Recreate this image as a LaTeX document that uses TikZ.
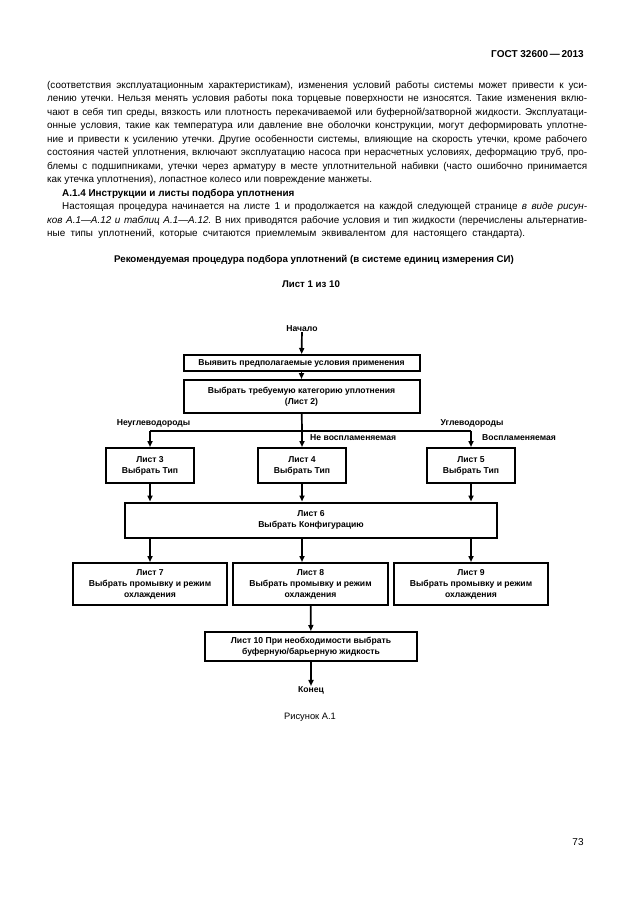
\documentclass[tikz,border=0pt]{standalone}
\usepackage{fontspec}
\setmainfont{Liberation Sans}
\usetikzlibrary{arrows.meta}
\frenchspacing
\newcommand\bodyfont{\fontsize{9.9}{13.45}\selectfont}
\newcommand\boxfont{\fontsize{8.6}{11}\selectfont\bfseries}
\begin{document}
\begin{tikzpicture}[x=1pt,y=-1pt,
  txt/.style={inner sep=0, font=\bodyfont},
  bline/.style={anchor=base west, inner sep=0},
  fbox/.style={draw, line width=2pt, align=center, inner sep=0, font=\boxfont},
  lbl/.style={inner sep=0, font=\boxfont},
  conn/.style={line width=1.7pt},
  arr/.style={line width=1.7pt, -{Triangle[length=6pt,width=5pt]}}]
\useasboundingbox (0,0) rectangle (630,913);
% header
\node[anchor=base east, inner sep=0, font=\fontsize{10}{12}\selectfont\bfseries] (hdr) at (584,57) {ГОСТ 32600\,—\,2013};
% body text
\node[bline] (l1) at (47,88) {\hbox to 540pt{\bodyfont (соответствия эксплуатационным характеристикам), изменения условий работы системы может привести к уси-}};
\node[bline] (l2) at (47,101.5) {\hbox to 540pt{\bodyfont лению утечки. Нельзя менять условия работы пока торцевые поверхности не износятся. Такие изменения вклю-}};
\node[bline] (l3) at (47,115) {\hbox to 540pt{\bodyfont чают в себя тип среды, вязкость или плотность перекачиваемой или буферной/затворной жидкости. Эксплуатаци-}};
\node[bline] (l4) at (47,128.5) {\hbox to 540pt{\bodyfont онные условия, такие как температура или давление вне оболочки конструкции, могут деформировать уплотне-}};
\node[bline] (l5) at (47,142) {\hbox to 540pt{\bodyfont ние и привести к усилению утечки. Другие особенности системы, влияющие на скорость утечки, кроме рабочего}};
\node[bline] (l6) at (47,155.5) {\hbox to 540pt{\bodyfont состояния частей уплотнения, включают эксплуатацию насоса при нерасчетных условиях, деформацию труб, про-}};
\node[bline] (l7) at (47,169) {\hbox to 540pt{\bodyfont блемы с подшипниками, утечки через арматуру в месте уплотнительной набивки (часто ошибочно принимается}};
\node[bline] (l8) at (47,182.5) {\bodyfont как утечка уплотнения), лопастное колесо или повреждение манжеты.};
\node[bline] (l9) at (62,196) {\bodyfont\bfseries А.1.4 Инструкции и листы подбора уплотнения};
\node[bline] (l10) at (62,209.5) {\hbox to 525pt{\bodyfont Настоящая процедура начинается на листе 1 и продолжается на каждой следующей странице \textit{в виде рисун-}}};
\node[bline] (l11) at (47,223) {\hbox to 540pt{\bodyfont \textit{ков А.1—А.12 и таблиц А.1—А.12.} В них приводятся рабочие условия и тип жидкости (перечислены альтернатив-}};
\node[bline] (l12) at (47,236.5) {\hbox to 478pt{\bodyfont ные типы уплотнений, которые считаются приемлемым эквивалентом для настоящего стандарта).}};
% titles
\node[inner sep=0, font=\fontsize{9.7}{11}\selectfont\bfseries] (title) at (314,260) {Рекомендуемая процедура подбора уплотнений (в системе единиц измерения СИ)};
\node[inner sep=0, font=\fontsize{9.7}{11}\selectfont\bfseries] (sheet) at (311,284) {Лист 1 из 10};
% flowchart
\node[lbl] (start) at (302,329) {Начало};
\node[fbox, minimum width=236pt, minimum height=16pt] (b1) at (301.5,363) {Выявить предполагаемые условия применения};
\node[fbox, minimum width=236pt, minimum height=33pt] (b2) at (301.5,396.5) {Выбрать требуемую категорию уплотнения\\(Лист 2)};
\coordinate (j) at (302,431);
\coordinate (jl) at (150,431);
\coordinate (jr) at (471,431);
\node[fbox, minimum width=88pt, minimum height=35pt] (b3) at (150,465.5) {Лист 3\\Выбрать Тип};
\node[fbox, minimum width=88pt, minimum height=35pt] (b4) at (302,465.5) {Лист 4\\Выбрать Тип};
\node[fbox, minimum width=88pt, minimum height=35pt] (b5) at (471,465.5) {Лист 5\\Выбрать Тип};
\node[fbox, minimum width=372pt, minimum height=35pt] (b6) at (311,520) {Лист 6\\Выбрать Конфигурацию};
\node[fbox, minimum width=154pt, minimum height=42pt] (b7) at (150,584) {Лист 7\\Выбрать промывку и режим\\охлаждения};
\node[fbox, minimum width=155pt, minimum height=42pt] (b8) at (310.5,584) {Лист 8\\Выбрать промывку и режим\\охлаждения};
\node[fbox, minimum width=154pt, minimum height=42pt] (b9) at (471,584) {Лист 9\\Выбрать промывку и режим\\охлаждения};
\node[fbox, minimum width=212pt, minimum height=29pt] (b10) at (311,646.5) {Лист 10 При необходимости выбрать\\буферную/барьерную жидкость};
\node[lbl] (end) at (311,690) {Конец};
% branch labels
\node[lbl] (lnh) at (153.5,423) {Неуглеводороды};
\node[lbl] (lh) at (472,423) {Углеводороды};
\node[lbl, anchor=west] (lnf) at (310,438) {Не воспламеняемая};
\node[lbl, anchor=west] (lf) at (482,438) {Воспламеняемая};
% connectors
\draw[arr] (start) -- (b1);
\draw[arr] (b1) -- (b2);
\draw[conn] (b2) -- (j);
\draw[conn] (jl) -- (jr);
\draw[arr] (j) -- (b4);
\draw[arr] (jl) -- (b3);
\draw[arr] (jr) -- (b5);
\draw[arr] (b3) -- (b3 |- b6.north);
\draw[arr] (b4) -- (b4 |- b6.north);
\draw[arr] (b5) -- (b5 |- b6.north);
\draw[arr] (b6.south -| b7) -- (b7);
\draw[arr] (b6.south -| b4) -- (b4 |- b8.north);
\draw[arr] (b6.south -| b9) -- (b9);
\draw[arr] (b8) -- (b10);
\draw[arr] (b10) -- (end);
% caption and page number
\node[inner sep=0, font=\fontsize{9.3}{11}\selectfont] (cap) at (310,717) {Рисунок А.1};
\node[inner sep=0, font=\fontsize{10}{12}\selectfont] (pg) at (578,842) {73};
\end{tikzpicture}
\end{document}
